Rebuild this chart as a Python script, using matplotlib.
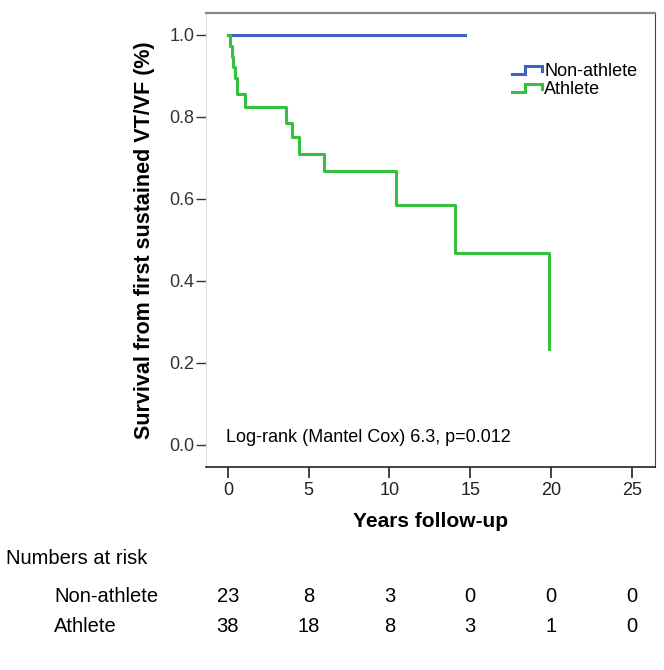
import matplotlib
matplotlib.use('Agg')
import matplotlib.pyplot as plt
from matplotlib.legend_handler import HandlerBase
from matplotlib.lines import Line2D
import matplotlib.transforms as mtransforms

plt.rcParams['font.family'] = ['Liberation Sans', 'DejaVu Sans']

# Kaplan-Meier data
athlete_t = [0, 0.12, 0.23, 0.33, 0.43, 0.58, 1.09, 3.58, 4.0, 4.38, 5.95, 10.4, 14.03, 19.9]
athlete_s = [1.0, 0.974, 0.947, 0.921, 0.895, 0.855, 0.825, 0.786, 0.750, 0.710, 0.667, 0.584, 0.469, 0.233]
nonath_t = [0, 14.7]
nonath_s = [1.0, 1.0]

risk_times = [0, 5, 10, 15, 20, 25]
risk_nonath = [23, 8, 3, 0, 0, 0]
risk_ath = [38, 18, 8, 3, 1, 0]

blue = '#4262c2'
green = '#35c040'


class StepHandler(HandlerBase):
    def create_artists(self, legend, orig_handle, xdescent, ydescent,
                       width, height, fontsize, trans):
        x0, y0 = -xdescent, -ydescent
        xs = [x0, x0 + width * 0.45, x0 + width * 0.45, x0 + width, x0 + width]
        ys = [y0 + height * 0.15, y0 + height * 0.15, y0 + height * 0.8,
              y0 + height * 0.8, y0 + height * 0.4]
        ln = Line2D(xs, ys, color=orig_handle.get_color(), lw=orig_handle.get_linewidth(),
                    solid_joinstyle='miter')
        ln.set_transform(trans)
        return [ln]


fig = plt.figure(figsize=(6.64, 6.70), dpi=100)
ax = fig.add_axes([0.310, 0.303, 0.676, 0.678])

l1, = ax.step(nonath_t, nonath_s, where='post', color=blue, lw=2.2, label='Non-athlete')
l2, = ax.step(athlete_t, athlete_s, where='post', color=green, lw=2.2, label='Athlete')

ax.set_xlim(-1.36, 26.42)
ax.set_ylim(-0.054, 1.054)
ax.set_xticks(risk_times)
ax.set_xticklabels([str(t) for t in risk_times])
ax.set_yticks([0.0, 0.2, 0.4, 0.6, 0.8, 1.0])
ax.set_yticklabels(['0.0', '0.2', '0.4', '0.6', '0.8', '1.0'])
ax.tick_params(axis='x', direction='out', length=8, width=1.2, pad=3, labelsize=13, colors='#222222')
ax.tick_params(axis='y', direction='out', length=7, width=1.0, pad=1, labelsize=13, colors='#333333')

ax.spines['left'].set_color('#dddddd')
ax.spines['top'].set_color('#888888')
ax.spines['top'].set_linewidth(1.6)
ax.spines['right'].set_color('#444444')
ax.spines['bottom'].set_color('#222222')
ax.spines['bottom'].set_linewidth(1.2)

ax.set_ylabel('Survival from first sustained VT/VF (%)', fontsize=15.5, fontweight='bold')
ax.yaxis.set_label_coords(-0.114, 0.5)
ax.set_xlabel('Years follow-up', fontsize=15, fontweight='bold')
ax.xaxis.set_label_coords(0.5, -0.10)

ax.text(-0.1, 0.017, 'Log-rank (Mantel Cox) 6.3, p=0.012', fontsize=13, va='center', ha='left')

ax.legend(handles=[l1, l2], handler_map={Line2D: StepHandler()}, loc='upper left',
          bbox_to_anchor=(0.682, 0.89), frameon=False, fontsize=13,
          handlelength=1.65, handletextpad=0.15, borderpad=0, labelspacing=0.08, borderaxespad=0)

# numbers at risk table
tr = mtransforms.blended_transform_factory(ax.transData, fig.transFigure)
fig.text(6 / 664, 1 - 558 / 670, 'Numbers at risk', fontsize=14.5, va='center', ha='left')
fig.text(54 / 664, 1 - 596 / 670, 'Non-athlete', fontsize=14.5, va='center', ha='left')
fig.text(54 / 664, 1 - 627 / 670, 'Athlete', fontsize=14.5, va='center', ha='left')
for t, a, b in zip(risk_times, risk_nonath, risk_ath):
    ax.text(t, 1 - 596 / 670, str(a), transform=tr, fontsize=14.5, ha='center', va='center')
    ax.text(t, 1 - 627 / 670, str(b), transform=tr, fontsize=14.5, ha='center', va='center')

fig.savefig('out.png', dpi=100)
